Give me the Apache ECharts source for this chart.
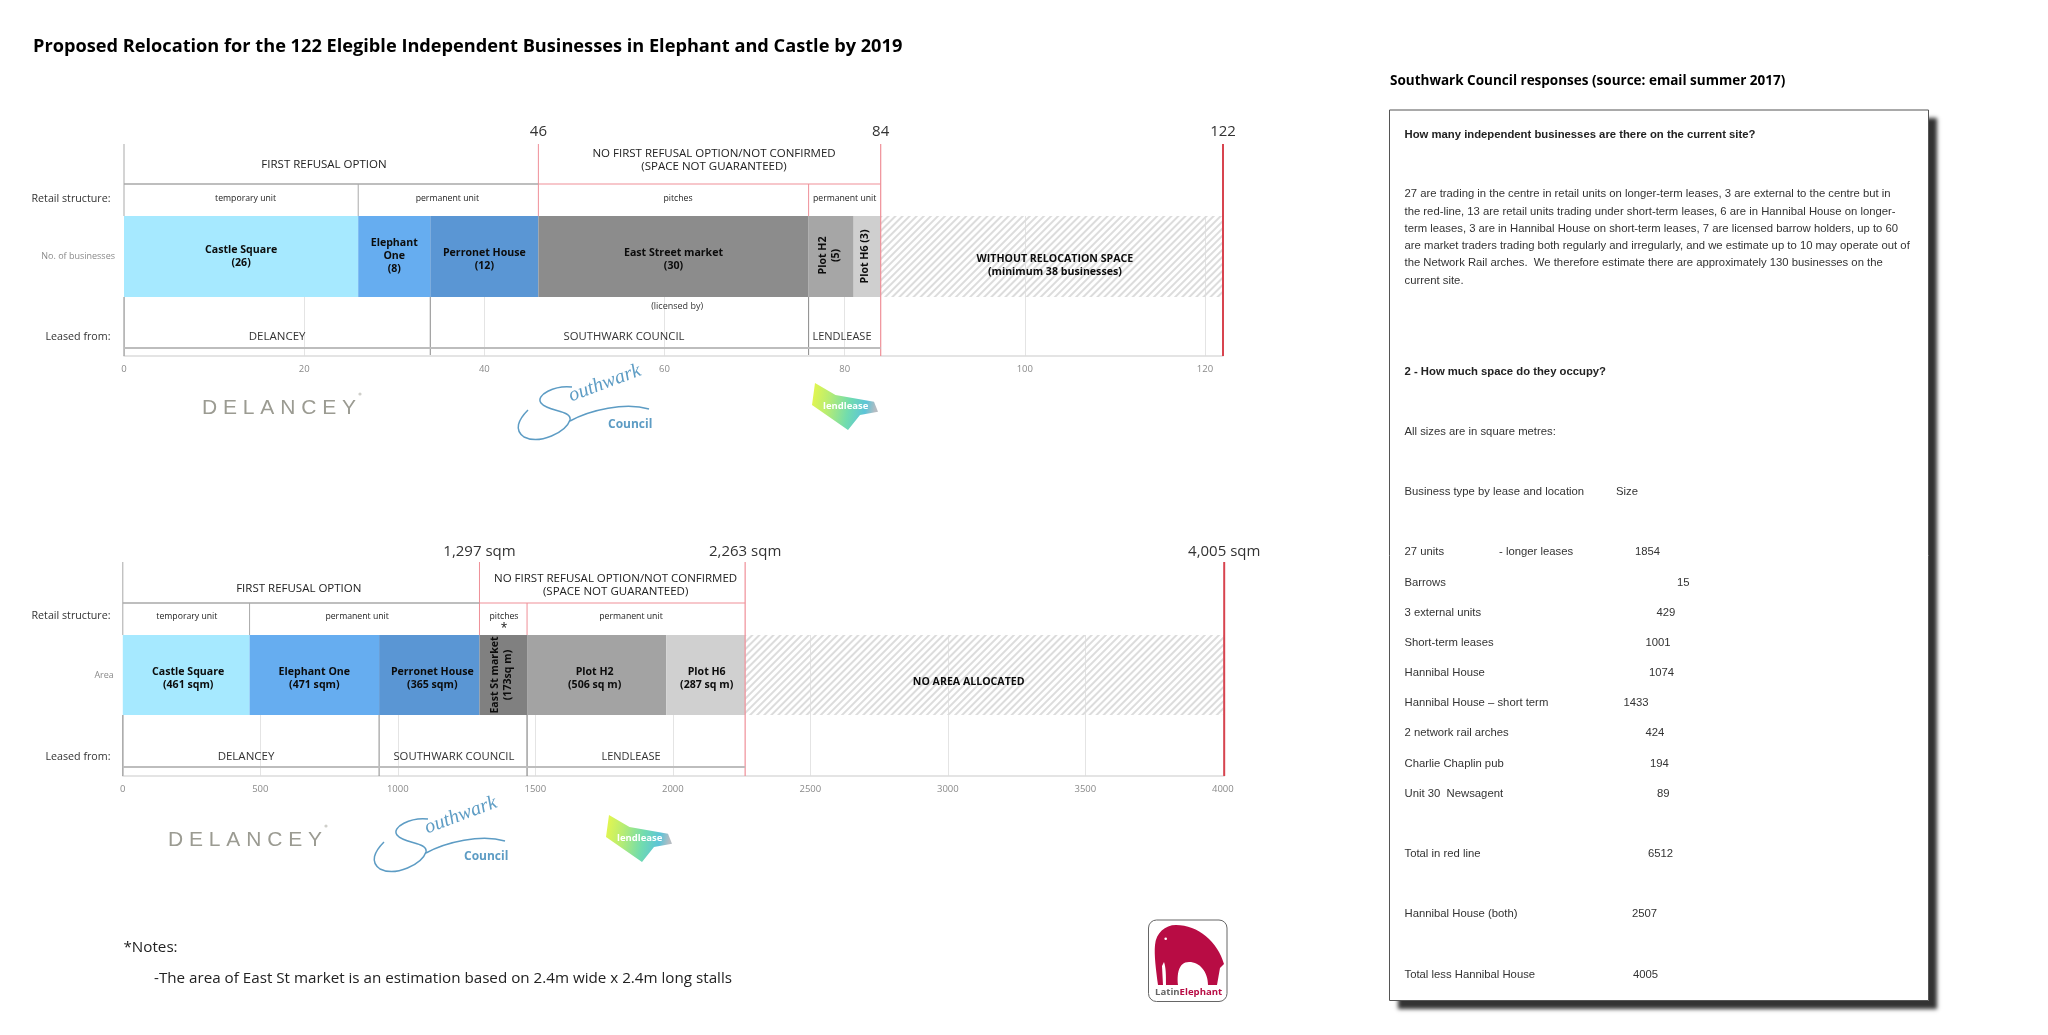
<!DOCTYPE html>
<html><head><meta charset="utf-8">
<style>html,body{margin:0;padding:0;background:#fff}#c{width:2048px;height:1035px}</style>
<script src="https://cdn.jsdelivr.net/npm/echarts@6/dist/echarts.min.js"></script>
</head><body><div id="c"></div>
<script>
// ---------- chart data ----------
const bizLabels = ['Castle Square\n(26)','Elephant\nOne\n(8)','Perronet House\n(12)','East Street market\n(30)','Plot H2\n(5)','Plot H6 (3)','WITHOUT RELOCATION SPACE\n(minimum 38 businesses)'];
const bizValues = [26,8,12,30,5,3,38];
const bizColors = ['#a6e9ff','#66adf0','#5a96d4','#8c8c8c','#a6a6a6','#cfcfcf',null];
const bizRotate = [0,0,0,0,90,90,0];
const bizNudge = [[0,0],[0,-1],[0,3],[0,3],[1,-2],[0,-2],[3,9]];
const bizTicks = ['0','20','40','60','80','100','120'];

const areaLabels = ['Castle Square\n(461 sqm)','Elephant One\n(471 sqm)','Perronet House\n(365 sqm)','East St market\n(173sq m)','Plot H2\n(506 sq m)','Plot H6\n(287 sq m)','NO AREA ALLOCATED'];
const areaValues = [461,471,365,173,506,287,1742];
const areaColors = ['#a6e9ff','#66adf0','#5a96d4','#808080','#a3a3a3','#d0d0d0',null];
const areaRotate = [0,0,0,90,0,0,0];
const areaNudge = [[2,3],[0,3],[3,3],[0,-2],[-2,3],[1,3],[-16,7]];
const areaTicks = ['0','500','1000','1500','2000','2500','3000','3500','4000'];

const GREY='#a9a9a9', PINK='#ef8f98', RED='#d8444f', DARK='#8a8a8a';
// segments: x1, level1, x2, level2, colour, width   (level = height above the axis)
const bizLines = [
 [0,212,0,140,GREY,1],[46,212,46,140,PINK,1],[84,212,84,0,PINK,1.2],[122,212,122,0,RED,2],
 [0,172,46,172,GREY,1.5],[46,172,84,172,PINK,1.2],[26,172,26,140,GREY,1],[76,172,76,140,PINK,1],
 [0,59,0,0,DARK,1],[34,59,34,1,DARK,1],[76,59,76,1,DARK,1],[0,8,84,8,'#bdbdbd',2]];
const areaLines = [
 [0,214,0,141,GREY,1],[1297,214,1297,141,PINK,1],[2263,214,2263,0,PINK,1.2],[4005,214,4005,0,RED,2],
 [0,173,1297,173,GREY,1.5],[1297,173,2263,173,PINK,1.2],[461,173,461,141,GREY,1],[1470,173,1470,141,PINK,1],
 [0,61,0,0,DARK,1],[932,61,932,0,DARK,1],[1470,61,1470,0,DARK,1.2],[0,9,2263,9,'#bdbdbd',2]];
// texts: x, level, text, size, colour
const bizTexts = [
 [46,224,'46',15,'#333'],[84,224,'84',15,'#333'],[122,224,'122',15,'#333'],
 [22.2,191,'FIRST REFUSAL OPTION',11.5,'#222'],[65.5,196,'NO FIRST REFUSAL OPTION/NOT CONFIRMED\n(SPACE NOT GUARANTEED)',11.5,'#222'],
 [13.5,157,'temporary unit',8.7,'#222'],[35.9,157,'permanent unit',8.7,'#222'],[61.5,157,'pitches',8.7,'#222'],[80,157,'permanent unit',8.7,'#222'],
 [61.4,50,'(licensed by)',9,'#333'],
 [17,19,'DELANCEY',11.5,'#333'],[55.5,19,'SOUTHWARK COUNCIL',11.3,'#333'],[79.7,19,'LENDLEASE',11,'#333']];
const areaTexts = [
 [1297,224,'1,297 sqm',15,'#333'],[2263,224,'2,263 sqm',15,'#333'],[4005,224,'4,005 sqm',15,'#333'],
 [640,187,'FIRST REFUSAL OPTION',11.5,'#222'],[1792,191,'NO FIRST REFUSAL OPTION/NOT CONFIRMED\n(SPACE NOT GUARANTEED)',11.5,'#222'],
 [233,159,'temporary unit',8.7,'#222'],[852,159,'permanent unit',8.7,'#222'],[1386,159,'pitches',8.7,'#222'],[1386,147,'*',12,'#111'],[1848,159,'permanent unit',8.7,'#222'],
 [448,19,'DELANCEY',11.5,'#333'],[1204,19,'SOUTHWARK COUNCIL',11.3,'#333'],[1848,19,'LENDLEASE',11,'#333']];

// ---------- text panel ----------
const panelPara = [
 '27 are trading in the centre in retail units on longer-term leases, 3 are external to the centre but in',
 'the red-line, 13 are retail units trading under short-term leases, 6 are in Hannibal House on longer-',
 'term leases, 3 are in Hannibal House on short-term leases, 7 are licensed barrow holders, up to 60',
 'are market traders trading both regularly and irregularly, and we estimate up to 10 may operate out of',
 'the Network Rail arches.  We therefore estimate there are approximately 130 businesses on the',
 'current site.'];
const sizeNames = ['27 units','Barrows','3 external units','Short-term leases','Hannibal House','Hannibal House \u2013 short term','2 network rail arches','Charlie Chaplin pub','Unit 30  Newsagent','Total in red line','Hannibal House (both)','Total less Hannibal House'];
const sizeValues = ['1854','15','429','1001','1074','1433','424','194','89','6512','2507','4005'];

// ---------- layout ----------
const FONT = '"Open Sans","Noto Sans",sans-serif';
const ARIAL = '"Liberation Sans",Arial,sans-serif';
const sizeX = [1635,1677,1656.5,1645.5,1649,1623.5,1645.5,1650,1657,1648,1632,1633];
const sizeY = [552,582.7,612.7,642.7,673,703,733,763.7,793.7,854,914.3,975];
const paraY = [194.3,212,229,246,263,281];

const grids=[],xAxes=[],yAxes=[],series=[];
function addChart(o){
  const g=grids.length;
  // bars
  grids.push({left:o.left,width:o.width,top:o.barTop,height:o.barH});
  xAxes.push({gridIndex:g,type:'value',min:0,max:o.max,show:false});
  yAxes.push({gridIndex:g,type:'category',data:[o.rowLabel],axisLine:{show:false},axisTick:{show:false},
    axisLabel:{color:'#8a8a8a',fontSize:9,fontFamily:FONT,margin:9,padding:o.rowPad}});
  o.values.forEach((v,i)=>{
    const hatch=o.colors[i]===null;
    series.push({type:'bar',stack:'s'+g,xAxisIndex:g,yAxisIndex:g,barWidth:'100%',z:3,data:[v],
      itemStyle:hatch?{color:'rgba(255,255,255,0)',decal:{symbol:'rect',symbolSize:1,dashArrayX:[1,0],dashArrayY:[1.4,2.6],rotation:-Math.PI/4,color:'#dcdcdc',backgroundColor:'rgba(255,255,255,0)'}}:{color:o.colors[i]},
      label:{show:true,position:'inside',formatter:o.labels[i],rotate:o.rotate[i],offset:o.nudge[i],color:'#0c0c0c',fontWeight:'bold',fontSize:10.6,lineHeight:13,fontFamily:FONT,align:'center',verticalAlign:'middle'}});
  });
  // value axis with its split lines
  const a=grids.length;
  grids.push({left:o.left,width:o.width,top:o.barTop,height:o.axisY-o.barTop});
  xAxes.push({gridIndex:a,type:'value',min:0,max:o.max,interval:o.interval,
    axisLine:{show:true,lineStyle:{color:'#dcdcdc',width:1.5}},axisTick:{show:false},
    splitLine:{show:true,lineStyle:{color:'#e4e4e4',width:1}},
    axisLabel:{color:'#8a8a8a',fontSize:9.5,fontFamily:FONT,margin:8,showMaxLabel:false,showMinLabel:true,
      formatter:v=>o.ticks.includes(String(v))?String(v):''}});
  yAxes.push({gridIndex:a,type:'value',min:0,max:1,show:false});
  // annotation layer: level = px height above the axis
  const c=grids.length;
  grids.push({left:o.left,width:o.width,top:o.topY,height:o.axisY-o.topY});
  xAxes.push({gridIndex:c,type:'value',min:0,max:o.max,show:false});
  yAxes.push({gridIndex:c,type:'value',min:0,max:o.axisY-o.topY,show:false});
  series.push({type:'custom',xAxisIndex:c,yAxisIndex:c,z:5,silent:true,data:o.lines,encode:{x:[0,2],y:[1,3]},clip:false,
    renderItem:(p,api)=>{const r=o.lines[p.dataIndex];const a=api.coord([r[0],r[1]]),b=api.coord([r[2],r[3]]);
      return {type:'line',shape:{x1:a[0],y1:a[1],x2:b[0],y2:b[1]},style:{stroke:r[4],lineWidth:r[5]}};}});
  series.push({type:'custom',xAxisIndex:c,yAxisIndex:c,z:6,silent:true,data:o.texts,encode:{x:0,y:1},clip:false,
    renderItem:(p,api)=>{const r=o.texts[p.dataIndex];const a=api.coord([r[0],r[1]]);
      return {type:'text',style:{x:a[0],y:a[1],text:r[2],fontSize:r[3],fill:r[4],fontFamily:FONT,align:'center',verticalAlign:'middle',lineHeight:13}};}});
}
addChart({left:124,width:1099,barTop:216,barH:81,axisY:356,topY:144,max:122,interval:20,rowLabel:'No. of businesses',rowPad:[0,0,0,0],
  values:bizValues,colors:bizColors,labels:bizLabels,rotate:bizRotate,nudge:bizNudge,ticks:bizTicks,lines:bizLines,texts:bizTexts});
addChart({left:122.8,width:1101.4,barTop:635,barH:80,axisY:776,topY:562,max:4005,interval:500,rowLabel:'Area',rowPad:[0,0,4,0],
  values:areaValues,colors:areaColors,labels:areaLabels,rotate:areaRotate,nudge:areaNudge,ticks:areaTicks,lines:areaLines,texts:areaTexts});

// ---------- page furniture ----------
const G=[];
function T(x,y,text,size,fill,extra){G.push({type:'text',z:10,style:Object.assign({x,y,text,fontSize:size,fill,fontFamily:FONT,verticalAlign:'middle'},extra||{})});}
T(33,47,'Proposed Relocation for the 122 Elegible Independent Businesses in Elephant and Castle by 2019',18.2,'#000',{fontWeight:'bold'});
T(1390,81,'Southwark Council responses (source: email summer 2017)',13.5,'#000',{fontWeight:'bold'});
[[199,'Retail structure:'],[337,'Leased from:'],[616,'Retail structure:'],[757,'Leased from:']].forEach(r=>T(110.5,r[0],r[1],10.7,'#333',{align:'right'}));
T(123.5,948,'*Notes:',15.2,'#222');
T(154,979,'-The area of East St market is an estimation based on 2.4m wide x 2.4m long stalls',15.2,'#222');
// panel: shadow first, then the outlined sheet
G.push({type:'rect',z:8,shape:{x:1390,y:110,width:539,height:890.5},style:{fill:'#fff',shadowBlur:4,shadowOffsetX:8,shadowOffsetY:8,shadowColor:'#333'}});
G.push({type:'rect',z:9,shape:{x:1389.5,y:110,width:539,height:890.5},style:{fill:'#fff',stroke:'#555',lineWidth:1}});
const PX=1404.5, PS=11.3;
T(PX,134.5,'How many independent businesses are there on the current site?',PS,'#222',{fontFamily:ARIAL,fontWeight:'bold'});
panelPara.forEach((s,i)=>T(PX,paraY[i],s,PS,'#333',{fontFamily:ARIAL}));
T(PX,371.5,'2 - How much space do they occupy?',PS,'#222',{fontFamily:ARIAL,fontWeight:'bold'});
T(PX,431.7,'All sizes are in square metres:',PS,'#333',{fontFamily:ARIAL});
T(PX,492,'Business type by lease and location',PS,'#333',{fontFamily:ARIAL});
T(1616,492,'Size',PS,'#333',{fontFamily:ARIAL});
T(1499,552,'- longer leases',PS,'#333',{fontFamily:ARIAL});
sizeNames.forEach((s,i)=>{T(PX,sizeY[i],s,PS,'#333',{fontFamily:ARIAL});T(sizeX[i],sizeY[i],sizeValues[i],PS,'#333',{fontFamily:ARIAL});});
// logos
echarts.graphic.registerShape('swoosh',echarts.graphic.extendPath('M572 387 C555 385 535 395 541 403 C548 412 572 410 570 420 C566 432 540 445 524 437 C514 430 518 420 528 410 M570 421 C590 410 625 402 649 409',{}));
echarts.graphic.registerShape('elephant',echarts.graphic.extendPath('M1176 925 C1198 925 1218 942 1224 964 L1220 968 L1217 985 L1208 985 C1208 972 1200 962 1189 962 C1178 962 1177 975 1178 985 L1166 985 C1166 975 1166 968 1164 962 L1162 966 L1163 985 L1158 985 C1156 970 1154 955 1155 945 C1156 933 1165 925 1176 925 Z',{}));
function delancey(dx,dy){
  T(202+dx,408+dy,'D E L A N C E Y',21,'#9b9b92',{fontFamily:ARIAL});
  G.push({type:'circle',z:10,shape:{cx:360+dx,cy:394+dy,r:1.6},style:{fill:'#cfcfca'}});
}
function southwark(dx,dy){
  const BL='#5d9cc4';
  G.push({type:'swoosh',z:10,x:dx,y:dy,style:{fill:null,stroke:BL,lineWidth:1.5}});
  G.push({type:'text',z:10,x:573+dx,y:406+dy,rotation:0.36,style:{x:0,y:0,text:'outhwark',fontSize:20,fontStyle:'italic',fontFamily:'"Liberation Serif",serif',fill:BL,verticalAlign:'bottom'}});
  T(608+dx,425+dy,'Council',12,BL,{fontWeight:'bold'});
}
function lendlease(dx,dy){
  G.push({type:'polygon',z:10,x:dx,y:dy,shape:{points:[[815,383],[835.5,395],[874,401.7],[878,411.7],[860,415],[848,430],[812,405]]},
    style:{fill:new echarts.graphic.LinearGradient(0,0,1,0.25,[{offset:0,color:'#e9f74a'},{offset:.3,color:'#b5ec74'},{offset:.6,color:'#71dcae'},{offset:.85,color:'#5cc4d8'},{offset:1,color:'#b6bcc2'}])}});
  T(823+dx,406+dy,'lendlease',9.5,'#fff',{fontWeight:'bold'});
}
delancey(0,0);delancey(-34,432);
southwark(0,0);southwark(-144,432);
lendlease(0,0);lendlease(-206,432);
// Latin Elephant badge
G.push({type:'rect',z:10,shape:{x:1148.5,y:920,width:78.5,height:81.5,r:8},style:{fill:'#fff',stroke:'#666',lineWidth:1}});
G.push({type:'elephant',z:11,style:{fill:'#b80c44'}});
G.push({type:'circle',z:12,shape:{cx:1165.7,cy:938.7,r:1.3},style:{fill:'#fff'}});
G.push({type:'text',z:11,style:{x:1155,y:992,text:'{a|Latin}{b|Elephant}',verticalAlign:'middle',rich:{a:{fontSize:9.6,fontWeight:'bold',fill:'#666',fontFamily:FONT},b:{fontSize:9.6,fontWeight:'bold',fill:'#b80c44',fontFamily:FONT}}}});

const chart=echarts.init(document.getElementById('c'),null,{renderer:'canvas'});
chart.setOption({animation:false,backgroundColor:'#fff',grid:grids,xAxis:xAxes,yAxis:yAxes,series,graphic:{elements:G},tooltip:{show:false}});
</script></body></html>
